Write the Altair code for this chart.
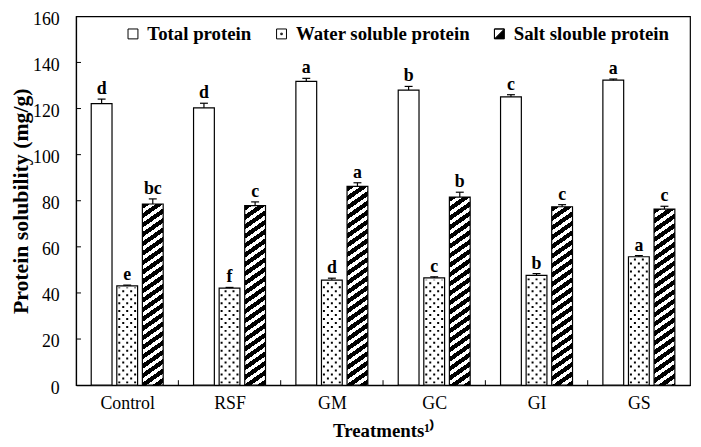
import json
import math
import altair as alt
import pandas as pd

# ---------------- data ----------------
treatments = ["Control", "RSF", "GM", "GC", "GI", "GS"]
series = ["Total protein", "Water soluble protein", "Salt slouble protein"]
total = [122.1, 120.3, 131.8, 128.0, 125.1, 132.3]
total_err = [2.0, 2.0, 1.3, 1.6, 0.9, 0.5]
water = [43.1, 42.1, 45.6, 46.5, 47.6, 55.7]
water_err = [0.3, 0.3, 0.8, 0.5, 0.8, 0.5]
salt = [78.6, 77.9, 86.2, 81.6, 77.4, 76.4]
salt_err = [2.2, 1.6, 1.6, 2.1, 0.9, 1.2]
total_letters = ["d", "d", "a", "b", "c", "a"]
water_letters = ["e", "f", "d", "c", "b", "a"]
salt_letters = ["bc", "c", "a", "b", "c", "c"]

# ---------------- layout ----------------
W, H = 620, 372.4
PX_X = W / len(treatments)      # px per group unit
PX_Y = H / 160.0                # px per mg/g
BAR_PX = 21.0
bw = BAR_PX / PX_X
offsets = [-0.25, 0.0, 0.25]
FONT = "Liberation Serif"

vals = [total, water, salt]
errs = [total_err, water_err, salt_err]
lets = [total_letters, water_letters, salt_letters]
rows = []
for j, s in enumerate(series):
    for i, t in enumerate(treatments):
        xc = i + 0.5 + offsets[j]
        v = vals[j][i]
        e = errs[j][i]
        rows.append(dict(treatment=t, series=s, value=v, err=e, top=v + e,
                         letter=lets[j][i], xc=xc, x1=xc - bw / 2, x2=xc + bw / 2,
                         half=v / 2, zero=0.0,
                         c1=xc - 4 / PX_X, c2=xc + 4 / PX_X))
df = pd.DataFrame(rows)

xscale = alt.Scale(domain=[0, len(treatments)], nice=False, zero=False)
yscale = alt.Scale(domain=[0, 160], nice=False)
label_expr = json.dumps(treatments) + "[floor(datum.value)]"
xaxis = alt.Axis(values=[i + 0.5 for i in range(len(treatments))], ticks=False,
                 labelExpr=label_expr, labelFontSize=18, labelPadding=10,
                 title="Treatments\u00b9\u207e", titleFontSize=19, titleFontWeight="bold",
                 titlePadding=9, grid=False, domainColor="black", domainWidth=1.2)
yaxis = alt.Axis(values=list(range(0, 161, 20)), ticks=False, labelFontSize=18,
                 labelPadding=17, labelBaseline="top", labelOffset=-6,
                 title="Protein solubility (mg/g)", titleFontSize=22,
                 titleFontWeight="bold", titlePadding=0, grid=False,
                 domainColor="black", domainWidth=1.2)


def X(field):
    return alt.X(field, type="quantitative", scale=xscale, axis=xaxis)


def Y(field):
    return alt.Y(field, type="quantitative", scale=yscale, axis=yaxis)


base = alt.Chart(df)

# legend carrier (hidden under the bars)
paths = [
    "M-1,-1L1,-1L1,1L-1,1Z",
    "M-1,-1L1,-1L1,1L-1,1ZM-0.15,-0.15L0.15,-0.15L0.15,0.15L-0.15,0.15Z",
    "M-1,-1L1,-1L1,1L-1,1ZM-1,-1L-1,1L1,-1Z",
]
leg = alt.Legend(title=None, orient="none", legendX=48, legendY=8, direction="horizontal",
                 labelFont=FONT, labelFontWeight="bold", labelFontSize=19, labelColor="black",
                 labelLimit=0, symbolStrokeColor="black", symbolStrokeWidth=1, symbolSize=100,
                 columnPadding=20, labelOffset=5, padding=0, symbolOpacity=1)
legend_layer = base.mark_point(filled=True, stroke="black", strokeWidth=1, size=81).encode(
    x=X("xc"), y=Y("half"),
    shape=alt.Shape("series:N", scale=alt.Scale(domain=series, range=paths), legend=leg),
    fill=alt.Fill("series:N", scale=alt.Scale(domain=series, range=["white", "white", "black"]), legend=leg),
    stroke=alt.Stroke("series:N", scale=alt.Scale(domain=series, range=["black", "black", "black"]), legend=leg),
)

# plain white bars (total + water)
white_bars = base.transform_filter(
    alt.FieldOneOfPredicate(field="series", oneOf=series[:2])
).mark_rect(fill="white", stroke="black", strokeWidth=1.2).encode(
    x=X("x1"), x2="x2", y=Y("value"), y2="zero")

# dotted pattern of water bars: dashed vertical rules
dot_rows = []
for i, t in enumerate(treatments):
    v = water[i]
    xl = i + 0.5 + offsets[1] - bw / 2
    for k in range(5):
        dot_rows.append(dict(treatment=t, xcol=xl + (2.5 + 4 * k) / PX_X,
                             bot=1.8 / PX_Y, topd=v - 1.8 / PX_Y, parity=k % 2))
dots_df = pd.DataFrame(dot_rows)
dot_layers = []
for par, off in [(0, 0), (1, 4)]:
    dot_layers.append(
        alt.Chart(dots_df).transform_filter(alt.datum.parity == par).mark_rule(
            color="black", strokeWidth=2, strokeDash=[2, 6], strokeDashOffset=off, strokeCap="butt"
        ).encode(x=X("xcol"), y=Y("bot"), y2="topd"))


# striped salt bars, one gradient per bar
def stripe_gradient(h_px, w_px=BAR_PX, s=0.7, p=9.5, frac=0.55):
    L = s * w_px + h_px
    n = L / p
    stops = []
    k = 0
    while k < n:
        a0 = k / n
        a1 = min((k + frac) / n, 1.0)
        a2 = min((k + 1) / n, 1.0)
        stops += [alt.GradientStop(offset=a0, color="black"),
                  alt.GradientStop(offset=a1, color="black"),
                  alt.GradientStop(offset=a1, color="white"),
                  alt.GradientStop(offset=a2, color="white")]
        k += 1
    den = s * s * w_px * w_px + h_px * h_px
    return alt.Gradient(gradient="linear", x1=0, y1=0,
                        x2=s * w_px * L / den, y2=L * h_px / den, stops=stops)


salt_layers = []
for i, t in enumerate(treatments):
    g = stripe_gradient(salt[i] * PX_Y)
    salt_layers.append(
        base.transform_filter((alt.datum.series == series[2]) & (alt.datum.treatment == t))
        .mark_rect(fill=g, stroke="black", strokeWidth=1.2)
        .encode(x=X("x1"), x2="x2", y=Y("value"), y2="zero"))

# error bars
err_line = base.mark_rule(color="black", strokeWidth=1.2).encode(x=X("xc"), y=Y("value"), y2="top")
err_cap = base.mark_rule(color="black", strokeWidth=1.2).encode(x=X("c1"), x2="c2", y=Y("top"))
letters = base.mark_text(font=FONT, fontWeight="bold", fontSize=18, baseline="alphabetic",
                         dy=-5, color="black").encode(x=X("xc"), y=Y("top"), text="letter")

# inward ticks
xt = pd.DataFrame(dict(xb=[float(i) for i in range(1, len(treatments))],
                       y0=0.0, y1=5 / PX_Y))
yt = pd.DataFrame(dict(yv=[float(v) for v in range(20, 160, 20)], x0=0.0, x1t=5 / PX_X))
xticks = alt.Chart(xt).mark_rule(color="black", strokeWidth=1).encode(x=X("xb"), y=Y("y0"), y2="y1")
yticks = alt.Chart(yt).mark_rule(color="black", strokeWidth=1).encode(x=X("x0"), x2="x1t", y=Y("yv"))

chart = alt.layer(
    legend_layer, white_bars, *dot_layers, *salt_layers, err_line, err_cap, letters, xticks, yticks
).properties(
    width=W, height=H,
    autosize=alt.AutoSizeParams(type="none"),
    padding={"left": 68.7, "top": 6.3, "right": 3, "bottom": 58},
).configure_view(
    stroke="black", strokeWidth=1.2
).configure_axis(
    labelFont=FONT, titleFont=FONT, labelColor="black", titleColor="black"
)

chart.save("out.html", embed_options={"renderer": "svg", "actions": False})
